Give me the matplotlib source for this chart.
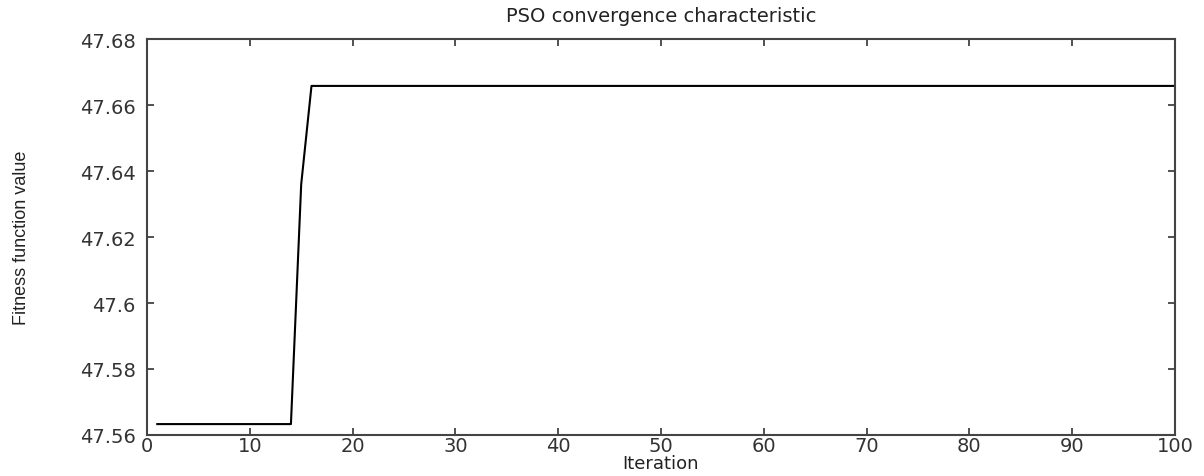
import matplotlib
matplotlib.use("Agg")
import matplotlib.pyplot as plt

# PSO best fitness per iteration
iterations = list(range(1, 101))
fitness = [47.5633] * 13 + [47.5633, 47.636] + [47.6658] * 85

x_ticks = [0, 10, 20, 30, 40, 50, 60, 70, 80, 90, 100]
y_ticks = [47.56, 47.58, 47.60, 47.62, 47.64, 47.66, 47.68]
y_tick_labels = ["47.56", "47.58", "47.6", "47.62", "47.64", "47.66", "47.68"]

fig = plt.figure(figsize=(12.04, 4.77), dpi=100)
ax = fig.add_axes([0.1221, 0.086, 0.8538, 0.830])

ax.plot(iterations, fitness, color="black", linewidth=1.5)

ax.set_xlim(0, 100)
ax.set_ylim(47.56, 47.68)
ax.set_xticks(x_ticks)
ax.set_yticks(y_ticks)
ax.set_yticklabels(y_tick_labels)

ax.tick_params(direction="in", top=True, right=True, length=5, width=1.2,
               labelsize=14, colors="#333333")
ax.tick_params(axis="x", pad=1)
ax.tick_params(axis="y", pad=8)
for lab in ax.get_xticklabels() + ax.get_yticklabels():
    lab.set_family("DejaVu Sans")
for s in ax.spines.values():
    s.set_linewidth(1.5)
    s.set_color("#444444")

ax.set_title("PSO convergence characteristic", fontsize=14, family="DejaVu Sans",
             pad=13, color="#222222")
ax.set_xlabel("Iteration", fontsize=13, family="DejaVu Sans", labelpad=-1,
              color="#222222")
ax.set_ylabel("Fitness function value", fontsize=13,
              family=["Liberation Sans Narrow", "Liberation Sans"], labelpad=36,
              color="#222222")

fig.savefig("out.png", dpi=100)
